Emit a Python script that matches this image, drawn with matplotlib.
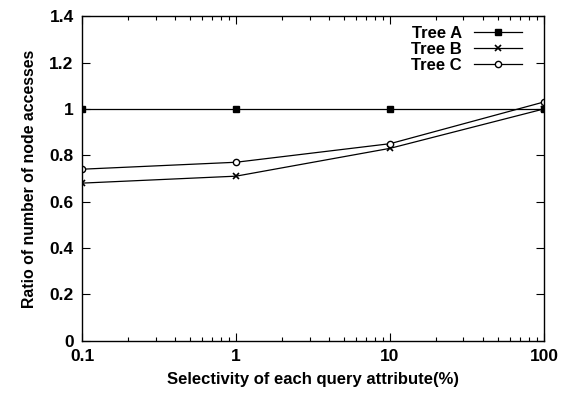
import matplotlib
matplotlib.use("Agg")
import matplotlib.pyplot as plt
from matplotlib.ticker import LogLocator, FixedLocator, NullFormatter

plt.rcParams['font.family'] = ['Liberation Sans', 'DejaVu Sans']
plt.rcParams['font.weight'] = 'bold'

selectivity = [0.1, 1, 10, 100]
tree_a = [1.0, 1.0, 1.0, 1.0]
tree_b = [0.68, 0.71, 0.83, 1.0]
tree_c = [0.74, 0.77, 0.85, 1.03]
x_ticks = [0.1, 1, 10, 100]
x_labels = ['0.1', '1', '10', '100']
y_ticks = [0, 0.2, 0.4, 0.6, 0.8, 1.0, 1.2, 1.4]
y_labels = ['0', '0.2', '0.4', '0.6', '0.8', '1', '1.2', '1.4']

fig = plt.figure(figsize=(5.62, 3.94), dpi=100)
ax = fig.add_axes([0.146, 0.135, 0.822, 0.824])

ax.plot(selectivity, tree_a, color='black', lw=0.9, marker='s', ms=4.5,
        mfc='black', mec='black', label='Tree A')
ax.plot(selectivity, tree_b, color='black', lw=0.9, marker='x', ms=4.5,
        mew=1.2, label='Tree B')
ax.plot(selectivity, tree_c, color='black', lw=0.9, marker='o', ms=4.5,
        mfc='white', mec='black', label='Tree C')

ax.set_xscale('log')
ax.set_xlim(0.1, 100)
ax.set_ylim(0, 1.4)
ax.xaxis.set_major_locator(FixedLocator(x_ticks))
ax.set_xticklabels(x_labels)
ax.xaxis.set_minor_locator(LogLocator(base=10, subs=range(2, 10)))
ax.xaxis.set_minor_formatter(NullFormatter())
ax.set_yticks(y_ticks)
ax.set_yticklabels(y_labels)

ax.tick_params(which='both', direction='in', top=True, right=True,
               labelsize=12.5, width=0.8, pad=6)
ax.tick_params(which='major', length=6)
ax.tick_params(which='minor', length=3)
for s in ax.spines.values():
    s.set_linewidth(1.0)

ax.set_xlabel('Selectivity of each query attribute(%)', fontsize=12,
              fontweight='bold', labelpad=6)
ax.set_ylabel('Ratio of number of node accesses', fontsize=11.4,
              fontweight='bold', labelpad=9)

leg = ax.legend(loc='upper right', bbox_to_anchor=(0.974, 1.0), frameon=False,
                markerfirst=False, fontsize=12, handlelength=2.9,
                handletextpad=0.7, labelspacing=0.05, borderaxespad=0.2)
# right-align the labels like gnuplot does
try:
    for col in leg._legend_box.get_children()[1].get_children():
        col.align = 'right'
except Exception:
    pass

fig.savefig('out.png', dpi=100)
